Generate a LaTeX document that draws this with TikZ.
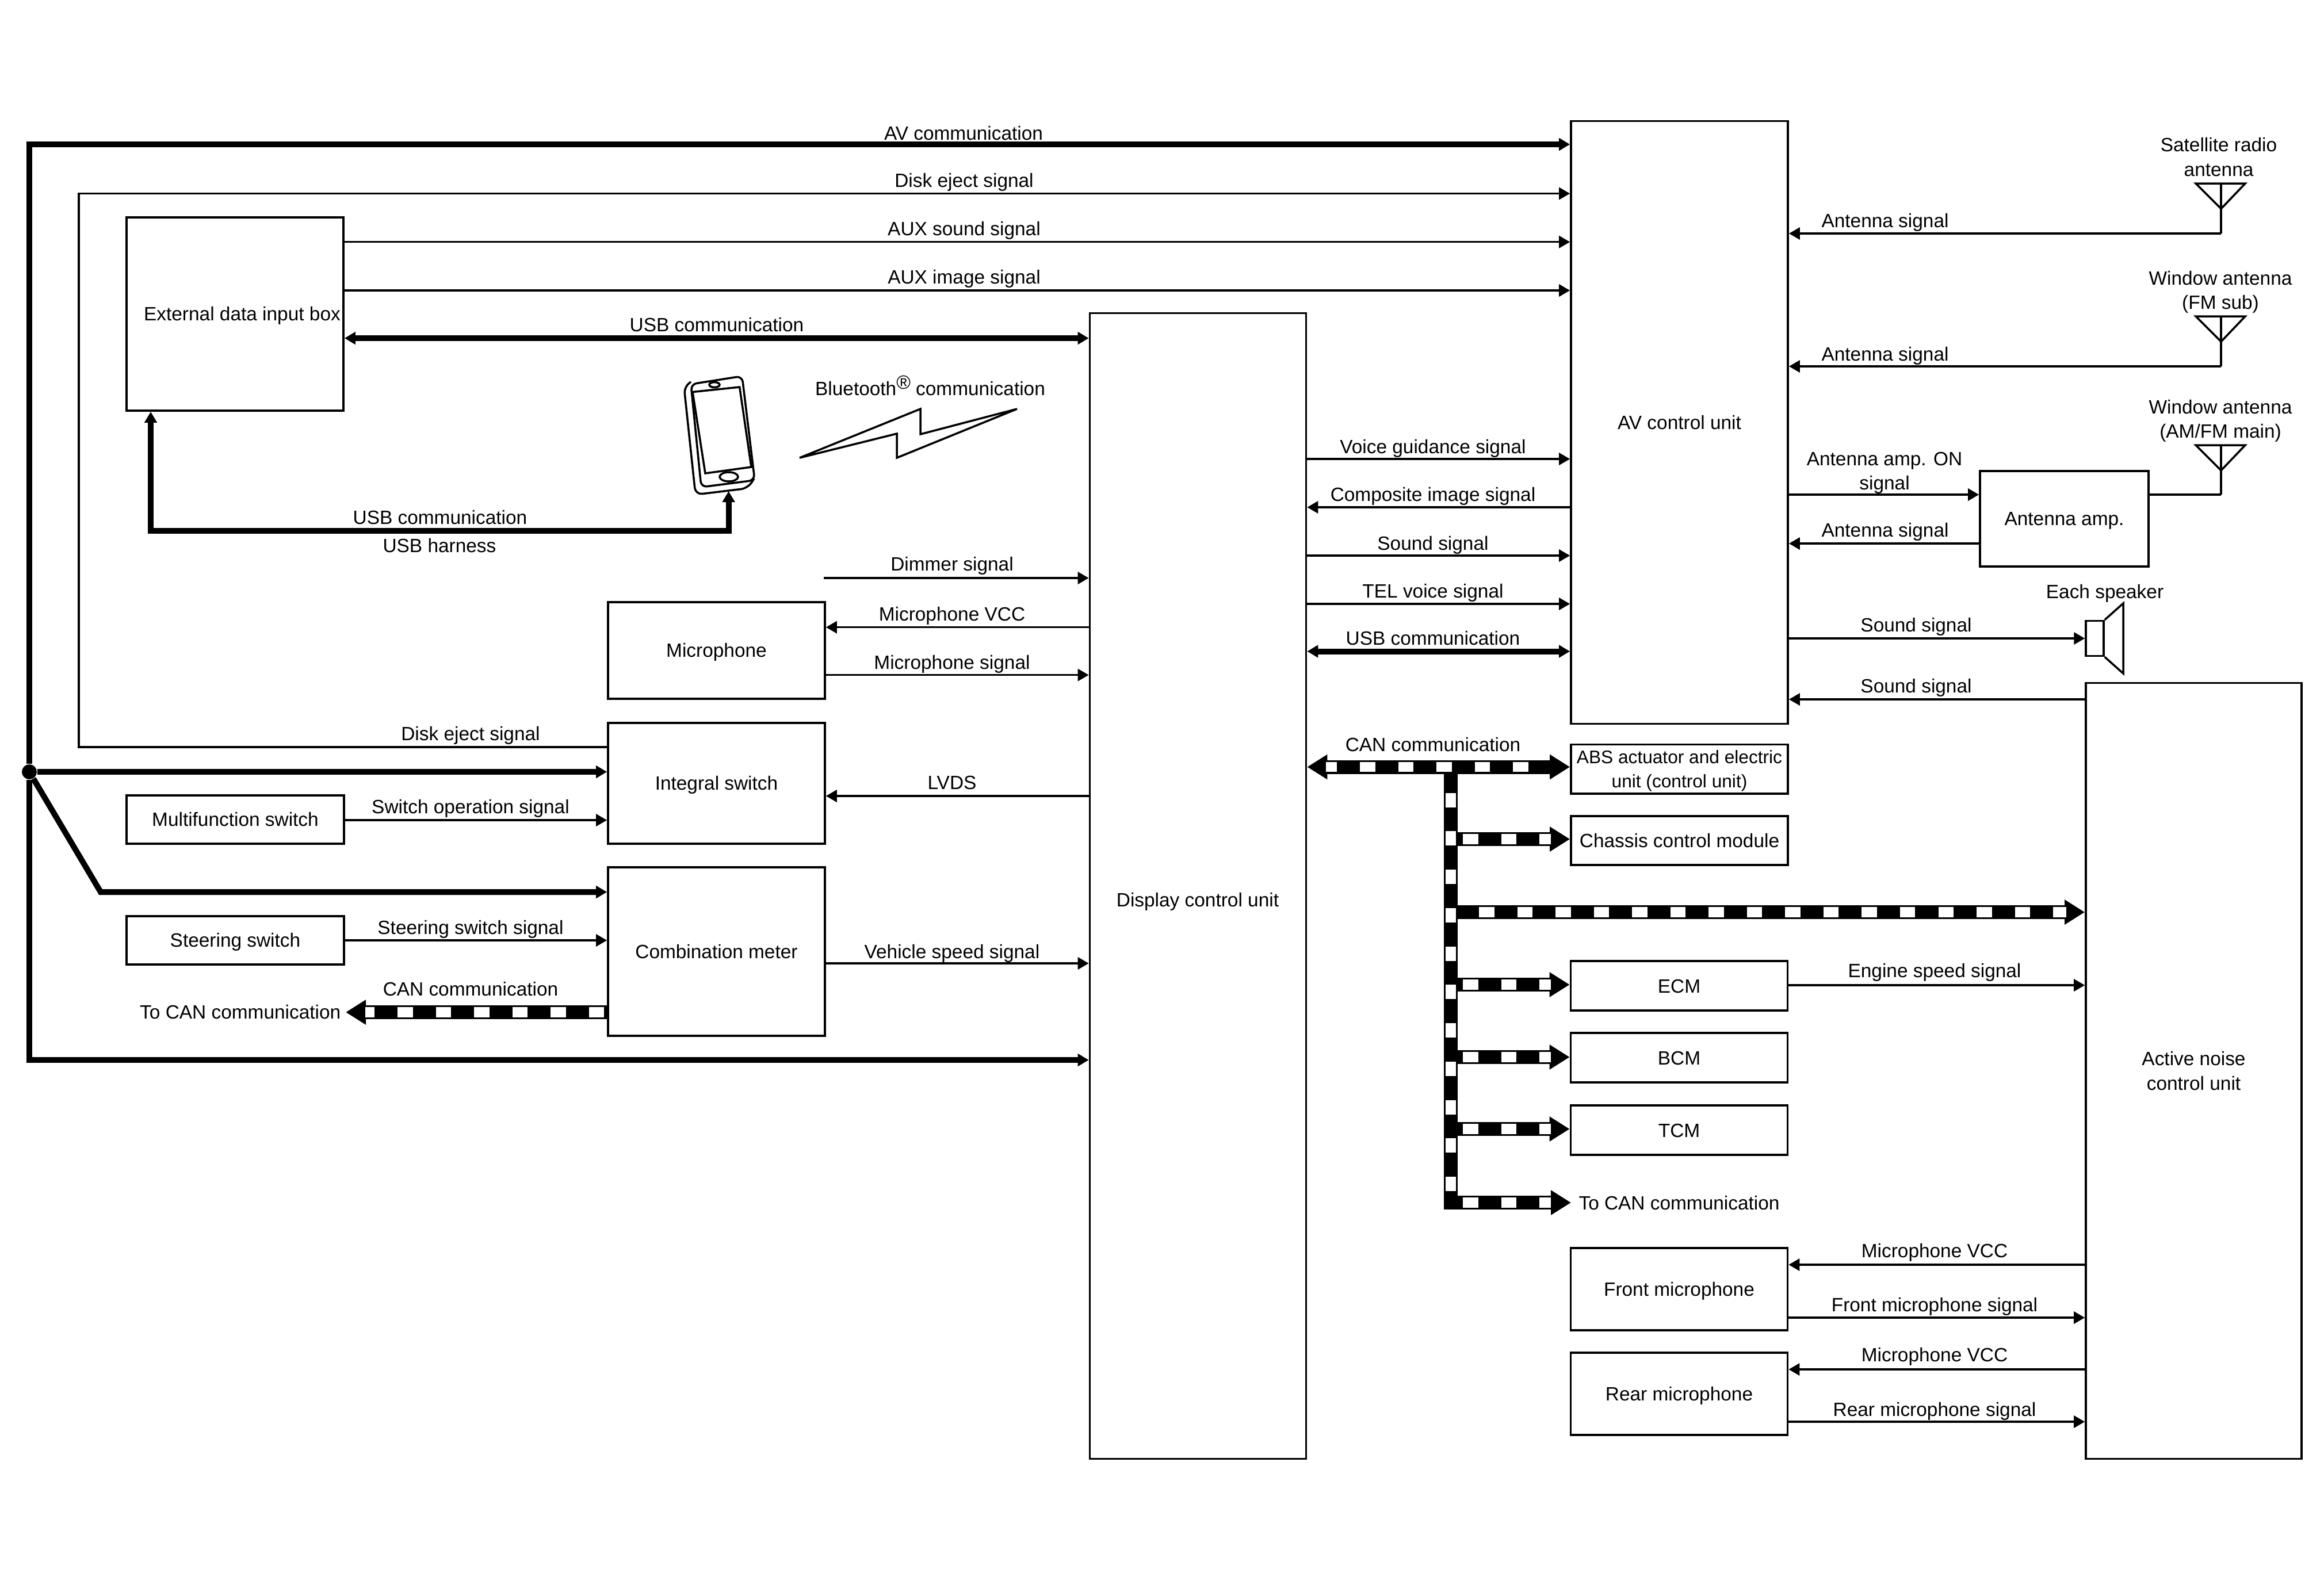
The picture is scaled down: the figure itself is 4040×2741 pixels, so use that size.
\documentclass[tikz,border=0pt]{standalone}
\usepackage{fontspec}
\setmainfont{Liberation Sans}
\usetikzlibrary{arrows.meta,calc}
\tikzset{
    sigtip/.tip={Triangle[length=.19cm,width=.21cm]},
    cantip/.tip={Triangle[length=.35cm,width=.41cm]},
    unit/.style={draw=black, line width=1pt, inner sep=0pt, align=center, text height=8.9pt, text depth=2.1pt, font=\fontsize{9.5}{12}\selectfont},
    sigtext/.style={inner sep=0pt, align=center, text height=8.9pt, text depth=2.1pt, font=\fontsize{9.5}{12}\selectfont},
    twolines/.style={text height=, text depth=},
    sigwire/.style={draw=black, line width=1pt},
    sigline/.style={sigwire, -{sigtip}},
    harness/.style={draw=black, line width=.1cm, -{sigtip}},
    canblack/.style={draw=black, line width=.24cm},
    canwhite/.style={draw=white, line width=.175cm, dash pattern=on .265cm off .40cm},
}
\begin{document}
\begin{tikzpicture}[x=.01cm, y=-.01cm]
\path[fill=white, use as bounding box] (0,0) rectangle (4040,2741);
% units
\node[unit, minimum width=3.77cm, minimum height=10.47cm] (av) at (2919.5,734.5) {AV control unit};
\node[unit, minimum width=3.76cm, minimum height=19.91cm] (display) at (2082.5,1540.5) {};
\node[sigtext] (displaytext) at (2082,1565) {Display control unit};
\node[unit, minimum width=3.77cm, minimum height=3.36cm] (ext) at (408.5,546) {};
\node[sigtext] (exttext) at (421,546) {External data input box};
\node[unit, minimum width=3.77cm, minimum height=1.68cm] (mic) at (1245.5,1131) {Microphone};
\node[unit, minimum width=3.77cm, minimum height=2.10cm] (integral) at (1245.5,1362) {Integral switch};
\node[unit, minimum width=3.78cm, minimum height=.84cm] (multi) at (409,1425) {Multifunction switch};
\node[unit, minimum width=3.77cm, minimum height=2.93cm] (meter) at (1245.5,1654.5) {Combination meter};
\node[unit, minimum width=3.78cm, minimum height=.84cm] (steer) at (409,1635) {Steering switch};
\node[unit, minimum width=3.77cm, minimum height=.855cm] (abs) at (2919.5,1337) {};
\node[sigtext, twolines, font=\fontsize{9}{12}\selectfont] (abstext) at (2919.5,1340) {ABS actuator and electric\\unit (control unit)};
\node[unit, minimum width=3.77cm, minimum height=.85cm] (chassis) at (2919.5,1461.5) {Chassis control module};
\node[unit, minimum width=3.77cm, minimum height=.86cm] (ecm) at (2919,1714) {ECM};
\node[unit, minimum width=3.77cm, minimum height=.86cm] (bcm) at (2919,1839) {BCM};
\node[unit, minimum width=3.77cm, minimum height=.86cm] (tcm) at (2919,1965) {TCM};
\node[unit, minimum width=3.77cm, minimum height=1.43cm] (frontmic) at (2919,2241.5) {Front microphone};
\node[unit, minimum width=3.77cm, minimum height=1.43cm] (rearmic) at (2919,2423.5) {Rear microphone};
\node[unit, minimum width=2.93cm, minimum height=1.66cm] (amp) at (3588.5,902) {Antenna amp.};
\node[unit, twolines, minimum width=3.75cm, minimum height=13.48cm] (anc) at (3813.5,1862) {Active noise\\control unit};
% free ends
\coordinate (ejectcorner) at (137,336.5);
\coordinate (usbcorner) at (262,922.6);
\coordinate (phoneport) at (1266.6,854);
\coordinate (dimmerstart) at (1432,1005);
\coordinate (bend) at (175,1551);
\coordinate (cantop) at (2522,1333.5);
\node[circle, fill=black, minimum size=.26cm, inner sep=0pt] (junction) at (51,1342) {};
% harness lines
\draw[harness] (junction) |- (av.west |- 0,251);
\draw[harness] (junction) |- (display.west |- 0,1843);
\draw[harness] (junction) -- (integral.west |- junction);
\draw[harness] (junction) -- (bend) -- (meter.west |- bend);
\draw[harness, {sigtip}-{sigtip}] (ext.east |- 0,588) -- (display.west |- 0,588);
\draw[harness, {sigtip}-{sigtip}] (ext.south -| usbcorner) -- (usbcorner) -| (phoneport);
\draw[harness, {sigtip}-{sigtip}] (display.east |- 0,1132.5) -- (av.west |- 0,1132.5);
% signal lines
\draw[sigline] (integral.west |- 0,1299) -| (ejectcorner) -- (av.west |- ejectcorner);
\draw[sigline] (ext.east |- 0,420.7) -- (av.west |- 0,420.7);
\draw[sigline] (ext.east |- 0,505) -- (av.west |- 0,505);
\draw[sigline] (dimmerstart) -- (display.west |- dimmerstart);
\draw[sigline] (display.west |- 0,1090.6) -- (mic.east |- 0,1090.6);
\draw[sigline] (mic.east |- 0,1173.6) -- (display.west |- 0,1173.6);
\draw[sigline] (display.west |- 0,1384) -- (integral.east |- 0,1384);
\draw[sigline] (multi.east |- 0,1426) -- (integral.west |- 0,1426);
\draw[sigline] (steer.east) -- (meter.west |- steer.east);
\draw[sigline] (meter.east |- 0,1675) -- (display.west |- 0,1675);
\draw[sigline] (display.east |- 0,798) -- (av.west |- 0,798);
\draw[sigline] (av.west |- 0,882) -- (display.east |- 0,882);
\draw[sigline] (display.east |- 0,966) -- (av.west |- 0,966);
\draw[sigline] (display.east |- 0,1050) -- (av.west |- 0,1050);
\draw[sigline] (av.east |- 0,860) -- (amp.west |- 0,860);
\draw[sigline] (amp.west |- 0,945) -- (av.east |- 0,945);
\draw[sigline] (anc.west |- 0,1216) -- (av.east |- 0,1216);
\draw[sigline] (ecm.east |- 0,1713) -- (anc.west |- 0,1713);
\draw[sigline] (anc.west |- 0,2199) -- (frontmic.east |- 0,2199);
\draw[sigline] (frontmic.east |- 0,2291) -- (anc.west |- 0,2291);
\draw[sigline] (anc.west |- 0,2381) -- (rearmic.east |- 0,2381);
\draw[sigline] (rearmic.east |- 0,2472) -- (anc.west |- 0,2472);
% antennas
\foreach \topy/\bottomy/\antname in {319/406/sat, 550/637/fmsub, 774/860/main} {
    \draw[sigwire] (3817,\topy) -- (3903,\topy) -- (3861,\topy+44) -- cycle;
    \coordinate (ant\antname) at (3861,\bottomy);
    \draw[sigwire] (3861,\topy) -- (ant\antname);
}
\draw[sigline] (antsat) -- (av.east |- antsat);
\draw[sigline] (antfmsub) -- (av.east |- antfmsub);
\draw[sigwire] (antmain) -- (amp.east |- antmain);
% speaker
\node[draw=black, line width=1pt, minimum width=.31cm, minimum height=.61cm, inner sep=0pt] (speaker) at (3641.5,1110) {};
\draw[sigwire] (speaker.north east) -- (3691,1049) -- (3691,1171) -- (speaker.south east);
\draw[sigline] (av.east |- speaker) -- (speaker.west);
% CAN lines
\draw[canblack] (cantop) -- (2522,2103);
\draw[canblack, {cantip}-{cantip}] (display.east |- cantop) -- (abs.west |- cantop);
\foreach \rowy/\rowname in {1459/chassis, 1712/ecm, 1838/bcm, 1963/tcm} {
    \draw[canblack, -{cantip}] (2522,\rowy) -- (\rowname.west |- 0,\rowy);
    \draw[canwhite] (2543,\rowy) -- (2696,\rowy);
}
\draw[canblack, -{cantip}] (2522,1586) -- (anc.west |- 0,1586);
\draw[canwhite] (2571,1586) -- (3592,1586);
\draw[canblack, -{cantip}] (2522,2091) -- (2731,2091);
\draw[canwhite] (2543,2091) -- (2696,2091);
\draw[canwhite, dash phase=.075cm] (2305,1333.5) -- (2696,1333.5);
\draw[canwhite, line width=.18cm, dash pattern=on .25cm off .417cm] (2522,1378.6) -- (2522,2071);
\draw[canblack, -{cantip}] (meter.west |- 0,1760) -- (601,1760);
\draw[canwhite, dash phase=.105cm] (635,1760) -- (1053,1760);
% phone
\draw[sigwire, rounded corners=.1cm] (1201,668) -- (1290,654) -- (1312,835) -- (1219,847) -- cycle;
\draw[sigwire, rounded corners=.12cm] (1201,664) -- (1189,672) -- (1209,860) -- (1300,849) -- (1311,832);
\draw[sigwire] (1204,681.5) -- (1285.7,673) -- (1306,812) -- (1226,823) -- cycle;
\draw[sigwire] (1242,669) ellipse [x radius=9, y radius=4.5];
\draw[sigwire] (1267,829) ellipse [x radius=16, y radius=8];
% bluetooth
\draw[sigwire, line join=miter] (1390,796) -- (1600,711) -- (1600,755) -- (1768,711) -- (1559,796) -- (1559,754) -- cycle;
% labels
\node[sigtext] (avcomlabel) at (1675,232) {AV communication};
\node[sigtext] (ejecttoplabel) at (1676,313.5) {Disk eject signal};
\node[sigtext] (auxsoundlabel) at (1676,398) {AUX sound signal};
\node[sigtext] (auximagelabel) at (1676,482) {AUX image signal};
\node[sigtext] (usbextlabel) at (1246,565) {USB communication};
\node[sigtext, text height=, text depth=] (btlabel) at (1617,670) {Bluetooth\raisebox{.33em}{\textregistered} communication};
\node[sigtext] (usbphonelabel) at (765,900) {USB communication};
\node[sigtext] (usbharnesslabel) at (764,949) {USB harness};
\node[sigtext] (dimmerlabel) at (1655,981) {Dimmer signal};
\node[sigtext] (micvcclabel) at (1655,1068) {Microphone VCC};
\node[sigtext] (micsiglabel) at (1655,1152) {Microphone signal};
\node[sigtext] (ejectlabel) at (818,1276) {Disk eject signal};
\node[sigtext] (lvdslabel) at (1655,1361) {LVDS};
\node[sigtext] (switchoplabel) at (818,1403) {Switch operation signal};
\node[sigtext] (steerlabel) at (818,1613) {Steering switch signal};
\node[sigtext] (speedlabel) at (1655,1655) {Vehicle speed signal};
\node[sigtext] (canmeterlabel) at (818,1720) {CAN communication};
\node[sigtext, anchor=east] (tocanleft) at (593,1760) {To CAN communication};
\node[sigtext] (voicelabel) at (2491,776.6) {Voice guidance signal};
\node[sigtext] (compositelabel) at (2491,860) {Composite image signal};
\node[sigtext] (soundlabel) at (2491,944.6) {Sound signal};
\node[sigtext] (tellabel) at (2491,1027.6) {TEL voice signal};
\node[sigtext] (usbavlabel) at (2491,1110) {USB communication};
\node[sigtext] (canlabel) at (2491,1295) {CAN communication};
\node[sigtext] (tocanright) at (2919,2091) {To CAN communication};
\node[sigtext] (engineheadlabel) at (3363,1688) {Engine speed signal};
\node[sigtext] (vccfrontlabel) at (3363,2174) {Microphone VCC};
\node[sigtext] (frontsiglabel) at (3363,2268) {Front microphone signal};
\node[sigtext] (vccrearlabel) at (3363,2355) {Microphone VCC};
\node[sigtext] (rearsiglabel) at (3363,2450) {Rear microphone signal};
\node[sigtext] (antonelabel) at (3277,384) {Antenna signal};
\node[sigtext] (anttwolabel) at (3277,616) {Antenna signal};
\node[sigtext] (ampsiglabel) at (3277,922) {Antenna signal};
\node[sigtext, twolines] (amponlabel) at (3276,822) {Antenna amp. ON\\signal};
\node[sigtext] (soundspklabel) at (3331,1087) {Sound signal};
\node[sigtext] (soundanclabel) at (3331,1193) {Sound signal};
\node[sigtext] (spkname) at (3659,1029) {Each speaker};
\node[sigtext, twolines] (satname) at (3857,273) {Satellite radio\\antenna};
\node[sigtext, twolines] (fmsubname) at (3860,508) {Window antenna\\(FM sub)};
\node[sigtext, twolines] (mainname) at (3860,732) {Window antenna\\(AM/FM main)};
\end{tikzpicture}
\end{document}
